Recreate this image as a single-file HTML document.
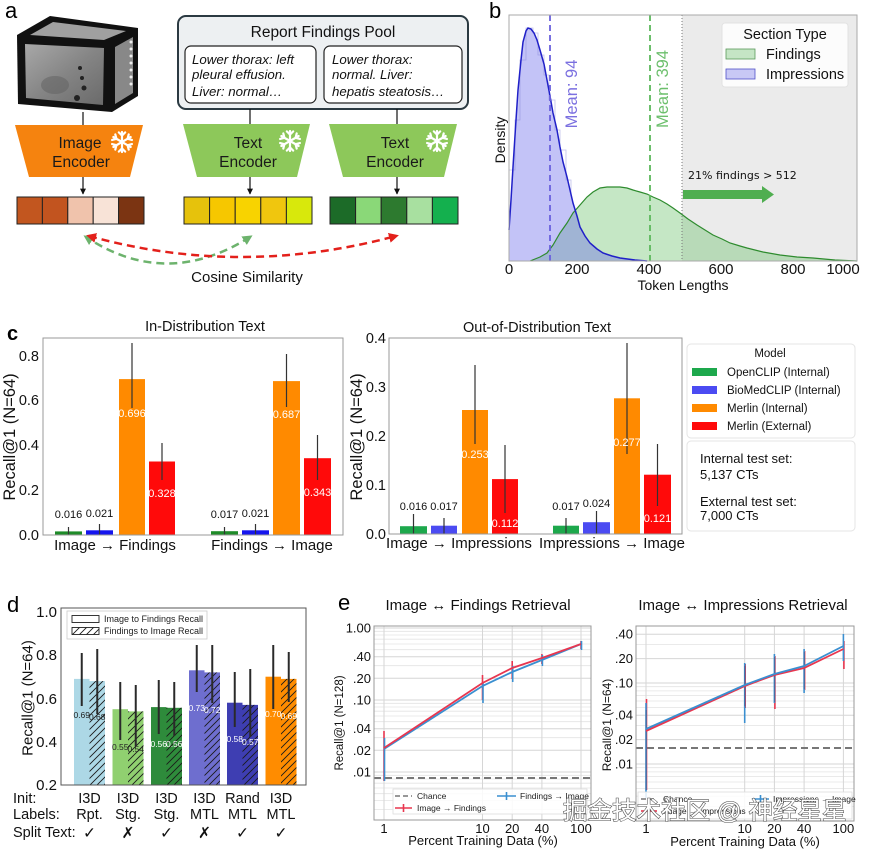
<!DOCTYPE html>
<html><head><meta charset="utf-8"><style>
html,body{margin:0;padding:0;background:#fff;}
svg{display:block;}
text{font-family:"Liberation Sans","DejaVu Sans","Noto Sans CJK SC",sans-serif;}
</style></head><body>
<svg width="870" height="850" viewBox="0 0 870 850" xmlns="http://www.w3.org/2000/svg">
<defs>
<pattern id="h" patternUnits="userSpaceOnUse" width="7" height="7"><path d="M-1,1 L1,-1 M0,7 L7,0 M6,8 L8,6" stroke="#1a1a1a" stroke-width="0.9"/></pattern>
<marker id="ag" viewBox="0 0 10 10" refX="7" refY="5" markerWidth="4" markerHeight="4" orient="auto-start-reverse"><path d="M0,0 L10,5 L0,10 z" fill="#6DB36D"/></marker>
<marker id="ar" viewBox="0 0 10 10" refX="7" refY="5" markerWidth="4" markerHeight="4" orient="auto-start-reverse"><path d="M0,0 L10,5 L0,10 z" fill="#E3201B"/></marker>
<marker id="ak" viewBox="0 0 10 10" refX="9" refY="5" markerWidth="6" markerHeight="6" markerUnits="userSpaceOnUse" orient="auto"><path d="M0,0 L10,5 L0,10 z" fill="#111"/></marker>
<linearGradient id="ct" x1="0" y1="0" x2="1" y2="1"><stop offset="0" stop-color="#a8a8a8"/><stop offset="0.5" stop-color="#858585"/><stop offset="1" stop-color="#6a6a6a"/></linearGradient>
<g id="arm"><path d="M0,0 V-10 M-3.2,-9.6 L0,-6.4 L3.2,-9.6"/></g>
<g id="sf" stroke="#fff" stroke-width="2.2" stroke-linecap="round" fill="none">
<use href="#arm"/><use href="#arm" transform="rotate(60)"/><use href="#arm" transform="rotate(120)"/><use href="#arm" transform="rotate(180)"/><use href="#arm" transform="rotate(240)"/><use href="#arm" transform="rotate(300)"/>
</g>
</defs>
<rect width="870" height="850" fill="#fff"/>

<!-- ================= PANEL A ================= -->
<text x="5" y="18" font-size="22">a</text>
<polygon points="17,35 50,16 138,28 138,96 112,112 18,104" fill="#111"/>
<polygon points="25,44 104,48 103,105 26,98" fill="url(#ct)"/>
<polygon points="30,35 53,22 126,31 104,40" fill="#a0a0a0"/>
<polygon points="115,47 133,37 133,93 115,104" fill="#888"/>
<circle cx="80" cy="68" r="2" fill="#222"/><circle cx="82" cy="78" r="2" fill="#222"/><circle cx="84" cy="88" r="2.5" fill="#222"/><circle cx="77" cy="98" r="3" fill="#222"/>
<ellipse cx="55" cy="85" rx="14" ry="9" fill="#606060" opacity="0.5"/>
<g fill="#eee"><circle cx="131" cy="42" r="1.5"/><circle cx="131" cy="49" r="1.5"/><circle cx="131" cy="56" r="1.5"/><circle cx="131" cy="63" r="1.5"/><circle cx="131" cy="70" r="1.5"/><circle cx="131" cy="77" r="1.5"/><circle cx="131" cy="84" r="1.5"/></g>
<line x1="83" y1="112" x2="83" y2="125" stroke="#111" stroke-width="1.2"/>

<rect x="178" y="16" width="290" height="93" rx="8" fill="#EDF0F2" stroke="#2B3A42" stroke-width="2"/>
<text x="323" y="37" font-size="15.5" text-anchor="middle" fill="#111">Report Findings Pool</text>
<rect x="185" y="46" width="131" height="57" rx="6" fill="#fff" stroke="#222" stroke-width="1.2"/>
<rect x="324" y="46" width="138" height="57" rx="6" fill="#fff" stroke="#222" stroke-width="1.2"/>
<g font-size="13.3" font-style="italic" fill="#111">
<text x="192" y="64">Lower thorax: left</text>
<text x="192" y="79">pleural effusion.</text>
<text x="192" y="96">Liver: normal…</text>
<text x="332" y="64">Lower thorax:</text>
<text x="332" y="79">normal. Liver:</text>
<text x="332" y="96">hepatis steatosis…</text>
</g>
<line x1="250" y1="109" x2="250" y2="124" stroke="#111" stroke-width="1.2"/>
<line x1="397" y1="109" x2="397" y2="124" stroke="#111" stroke-width="1.2"/>

<polygon points="15,125 143,125 130,177 29,177" fill="#F5830F"/>
<polygon points="183,124 310,124 297,177 197,177" fill="#8DC85A"/>
<polygon points="329,124 457,124 444,177 343,177" fill="#8DC85A"/>
<g font-size="15.5" fill="#1a1a1a" text-anchor="middle">
<text x="80" y="148">Image</text><text x="81" y="167">Encoder</text>
<text x="248" y="148">Text</text><text x="248" y="167">Encoder</text>
<text x="395" y="148">Text</text><text x="395" y="167">Encoder</text>
</g>
<use href="#sf" transform="translate(122,142)"/>
<use href="#sf" transform="translate(290,141)"/>
<use href="#sf" transform="translate(437,141)"/>
<line x1="83" y1="177" x2="83" y2="194" stroke="#111" stroke-width="1.2" marker-end="url(#ak)"/>
<line x1="250" y1="177" x2="250" y2="194" stroke="#111" stroke-width="1.2" marker-end="url(#ak)"/>
<line x1="397" y1="177" x2="397" y2="194" stroke="#111" stroke-width="1.2" marker-end="url(#ak)"/>

<g stroke="#222" stroke-width="1">
<rect x="17" y="197" width="25.4" height="27" fill="#C2561F"/>
<rect x="42.4" y="197" width="25.4" height="27" fill="#C2541F"/>
<rect x="67.8" y="197" width="25.4" height="27" fill="#F0C3AC"/>
<rect x="93.2" y="197" width="25.4" height="27" fill="#F8E3D7"/>
<rect x="118.6" y="197" width="25.4" height="27" fill="#7B3412"/>
<rect x="184" y="197" width="25.6" height="27" fill="#E6C20C"/>
<rect x="209.6" y="197" width="25.6" height="27" fill="#F6C700"/>
<rect x="235.2" y="197" width="25.6" height="27" fill="#F8D300"/>
<rect x="260.8" y="197" width="25.6" height="27" fill="#F0C60E"/>
<rect x="286.4" y="197" width="25.6" height="27" fill="#D8E80C"/>
<rect x="330" y="197" width="25.6" height="27" fill="#1C6B28"/>
<rect x="355.6" y="197" width="25.6" height="27" fill="#8AD878"/>
<rect x="381.2" y="197" width="25.6" height="27" fill="#2D7A2F"/>
<rect x="406.8" y="197" width="25.6" height="27" fill="#A8E0A0"/>
<rect x="432.4" y="197" width="25.6" height="27" fill="#14B04E"/>
</g>
<path d="M250,237 Q166,290 86,237" fill="none" stroke="#6DB36D" stroke-width="2.5" stroke-dasharray="8,5" marker-start="url(#ag)" marker-end="url(#ag)"/>
<path d="M89,236 Q240,278 396,236" fill="none" stroke="#E3201B" stroke-width="2.5" stroke-dasharray="8,5" marker-start="url(#ar)" marker-end="url(#ar)"/>
<text x="247" y="282" font-size="15" text-anchor="middle" fill="#111">Cosine Similarity</text>

<!-- ================= PANEL B ================= -->
<text x="489" y="18" font-size="22">b</text>
<rect x="682" y="15" width="175" height="246" fill="#EBEBEB"/>
<path d="M530,261 L540,257 L547,253 L553,245 L560,233 L567,223 L573,213 L580,205 L587,197 L593,192 L600,188 L607,187 L613,187 L620,187 L627,188 L633,190 L640,192 L647,194 L653,197 L660,200 L667,204 L673,208 L680,213 L688,219 L697,225 L705,230 L713,235 L722,239 L730,243 L740,246 L747,248 L763,252 L780,255 L797,257 L813,258 L835,260 L857,261 Z" fill="rgb(90,185,90)" fill-opacity="0.35"/>
<path d="M509,261 L509,230 L511,200 L513,167 L516,120 L518,90 L521,60 L523,42 L526,31 L528,28 L531,29 L534,33 L537,40 L540,50 L544,64 L547,80 L550,96 L553,113 L557,130 L560,147 L563,162 L567,177 L570,190 L573,203 L577,216 L580,227 L585,236 L590,243 L597,249 L603,253 L612,256 L620,258 L635,260 L647,261 Z" fill="rgb(105,105,235)" fill-opacity="0.4"/>
<path d="M509,170 H515 V120 H520 V60 H526 V28 H533 V33 H538 V55 H544 V75 H549 V100 H555 V130 H560 V150 H566 V180 H571 V195" fill="none" stroke="#8080d8" stroke-width="0.8" opacity="0.5"/>
<path d="M530,261 L540,257 L547,253 L553,245 L560,233 L567,223 L573,213 L580,205 L587,197 L593,192 L600,188 L607,187 L613,187 L620,187 L627,188 L633,190 L640,192 L647,194 L653,197 L660,200 L667,204 L673,208 L680,213 L688,219 L697,225 L705,230 L713,235 L722,239 L730,243 L740,246 L747,248 L763,252 L780,255 L797,257 L813,258 L835,260 L857,261" fill="none" stroke="#2E8B2E" stroke-width="1.2"/>
<path d="M509,230 L511,200 L513,167 L516,120 L518,90 L521,60 L523,42 L526,31 L528,28 L531,29 L534,33 L537,40 L540,50 L544,64 L547,80 L550,96 L553,113 L557,130 L560,147 L563,162 L567,177 L570,190 L573,203 L577,216 L580,227 L585,236 L590,243 L597,249 L603,253 L612,256 L620,258 L635,260 L647,261" fill="none" stroke="#2020C8" stroke-width="1.5"/>
<line x1="682" y1="15" x2="682" y2="261" stroke="#777" stroke-width="1" stroke-dasharray="1,2"/>
<line x1="550" y1="15" x2="550" y2="261" stroke="#6A60DD" stroke-width="1.8" stroke-dasharray="6,4"/>
<line x1="650" y1="15" x2="650" y2="261" stroke="#5CB85C" stroke-width="1.8" stroke-dasharray="6,4"/>
<text transform="translate(572,94) rotate(-90)" font-size="16.5" text-anchor="middle" dominant-baseline="central" fill="#7B70E0">Mean: 94</text>
<text transform="translate(663,89) rotate(-90)" font-size="16.5" text-anchor="middle" dominant-baseline="central" fill="#6CBF6C">Mean: 394</text>
<rect x="683" y="190" width="80" height="9" fill="#4FAE50"/>
<polygon points="762,186 774,194.5 762,203" fill="#4FAE50"/>
<text x="688" y="179" font-size="11" fill="#111" style="font-family:'DejaVu Sans',sans-serif">21% findings &gt; 512</text>
<rect x="509" y="15" width="348" height="246" fill="none" stroke="#aaa" stroke-width="1"/>
<rect x="722" y="23" width="126" height="64" rx="3" fill="#fff" fill-opacity="0.85" stroke="#e2e2e2"/>
<text x="785" y="39" font-size="14.5" text-anchor="middle" fill="#111">Section Type</text>
<rect x="726" y="49" width="29" height="10" fill="#C5E5C5" stroke="#5a9a5a" stroke-width="0.8"/>
<rect x="726" y="69" width="29" height="10" fill="#C8C8F5" stroke="#5050C8" stroke-width="0.8"/>
<text x="766" y="59" font-size="14.5" fill="#111">Findings</text>
<text x="766" y="79" font-size="14.5" fill="#111">Impressions</text>
<g font-size="15" text-anchor="middle" fill="#111">
<text x="509" y="274">0</text><text x="577" y="274">200</text><text x="649" y="274">400</text><text x="721" y="274">600</text><text x="793" y="274">800</text><text x="843" y="274">1000</text>
</g>
<text x="683" y="290" font-size="14" text-anchor="middle" fill="#111">Token Lengths</text>
<text transform="translate(500,140) rotate(-90)" font-size="14" text-anchor="middle" dominant-baseline="central" fill="#111">Density</text>

<!-- ================= PANEL C ================= -->
<text x="7" y="340" font-size="20" font-weight="bold">c</text>
<text x="205" y="331" font-size="14.5" text-anchor="middle" fill="#111">In-Distribution Text</text>
<text x="537" y="332" font-size="14.5" text-anchor="middle" fill="#111">Out-of-Distribution Text</text>
<rect x="55" y="531.4" width="27" height="3.6" fill="#1E8B28"/>
<rect x="86" y="530.3" width="27" height="4.7" fill="#1515EE"/>
<rect x="119" y="379.1" width="26" height="155.9" fill="#FF8A00"/>
<rect x="149" y="461.5" width="26" height="73.5" fill="#FF0A0A"/>
<rect x="211" y="531.2" width="27" height="3.8" fill="#1E8B28"/>
<rect x="242" y="530.3" width="27" height="4.7" fill="#1515EE"/>
<rect x="273" y="381.1" width="27" height="153.9" fill="#FF8A00"/>
<rect x="304" y="458.2" width="27" height="76.8" fill="#FF0A0A"/>
<g stroke="#333" stroke-width="1.2">
<line x1="68.5" y1="527" x2="68.5" y2="535"/><line x1="99.5" y1="524" x2="99.5" y2="535"/>
<line x1="132" y1="343" x2="132" y2="408"/><line x1="162" y1="443" x2="162" y2="480"/>
<line x1="224.5" y1="527" x2="224.5" y2="535"/><line x1="255.5" y1="524" x2="255.5" y2="535"/>
<line x1="286.5" y1="354" x2="286.5" y2="407"/><line x1="317.5" y1="435" x2="317.5" y2="480"/>
</g>
<g font-size="11" text-anchor="middle">
<text x="68.5" y="518" fill="#111">0.016</text><text x="99.5" y="517" fill="#111">0.021</text>
<text x="132" y="417" fill="#fff">0.696</text><text x="162" y="497" fill="#fff">0.328</text>
<text x="224.5" y="518" fill="#111">0.017</text><text x="255.5" y="517" fill="#111">0.021</text>
<text x="286.5" y="418" fill="#fff">0.687</text><text x="317.5" y="496" fill="#fff">0.343</text>
</g>
<rect x="43" y="338" width="300" height="197" fill="none" stroke="#999" stroke-width="1"/>
<g font-size="14.5" text-anchor="end" fill="#111">
<text x="39" y="540">0.0</text><text x="39" y="495">0.2</text><text x="39" y="450">0.4</text><text x="39" y="405">0.6</text><text x="39" y="361">0.8</text>
</g>
<text transform="translate(10,437) rotate(-90)" font-size="16.5" text-anchor="middle" dominant-baseline="central" fill="#111">Recall@1 (N=64)</text>
<text x="115" y="550" font-size="15" text-anchor="middle" fill="#111">Image → Findings</text>
<text x="272" y="550" font-size="15" text-anchor="middle" fill="#111">Findings → Image</text>
<rect x="400" y="526.2" width="27" height="7.8" fill="#1DA84C"/>
<rect x="431" y="525.7" width="26" height="8.3" fill="#4B4BF2"/>
<rect x="462" y="410" width="26" height="124" fill="#FF8A00"/>
<rect x="492" y="479.1" width="26" height="54.9" fill="#FF0A0A"/>
<rect x="553" y="525.7" width="26" height="8.3" fill="#1DA84C"/>
<rect x="583" y="522.2" width="27" height="11.8" fill="#4B4BF2"/>
<rect x="614" y="398.3" width="26" height="135.7" fill="#FF8A00"/>
<rect x="644" y="474.7" width="27" height="59.3" fill="#FF0A0A"/>
<g stroke="#333" stroke-width="1.2">
<line x1="413.5" y1="514" x2="413.5" y2="534"/><line x1="444" y1="518" x2="444" y2="534"/>
<line x1="475" y1="365" x2="475" y2="444"/><line x1="505" y1="445" x2="505" y2="513"/>
<line x1="566" y1="518" x2="566" y2="534"/><line x1="596.5" y1="511" x2="596.5" y2="534"/>
<line x1="627" y1="343" x2="627" y2="454"/><line x1="657.5" y1="444" x2="657.5" y2="506"/>
</g>
<g font-size="11" text-anchor="middle">
<text x="413.5" y="510" fill="#111">0.016</text><text x="444" y="510" fill="#111">0.017</text>
<text x="475" y="458" fill="#fff">0.253</text><text x="505" y="527" fill="#fff">0.112</text>
<text x="566" y="510" fill="#111">0.017</text><text x="596.5" y="507" fill="#111">0.024</text>
<text x="627" y="446" fill="#fff">0.277</text><text x="657.5" y="522" fill="#fff">0.121</text>
</g>
<rect x="389" y="338" width="293" height="196" fill="none" stroke="#999" stroke-width="1"/>
<g font-size="14.5" text-anchor="end" fill="#111">
<text x="386" y="539">0.0</text><text x="386" y="490">0.1</text><text x="386" y="441">0.2</text><text x="386" y="392">0.3</text><text x="386" y="343">0.4</text>
</g>
<text transform="translate(357,437) rotate(-90)" font-size="16.5" text-anchor="middle" dominant-baseline="central" fill="#111">Recall@1 (N=64)</text>
<text x="459" y="548" font-size="15" text-anchor="middle" fill="#111">Image → Impressions</text>
<text x="612" y="548" font-size="15" text-anchor="middle" fill="#111">Impressions → Image</text>
<rect x="687" y="344" width="168" height="94" rx="4" fill="#fff" stroke="#e4e4e4"/>
<text x="770" y="357" font-size="11.5" text-anchor="middle" fill="#111">Model</text>
<rect x="692" y="368" width="25" height="8" fill="#1DA84C"/>
<rect x="692" y="386" width="25" height="8" fill="#4B4BF2"/>
<rect x="692" y="404" width="25" height="8" fill="#FF8A00"/>
<rect x="692" y="422" width="25" height="8" fill="#FF0A0A"/>
<g font-size="11.5" fill="#111">
<text x="727" y="376">OpenCLIP (Internal)</text>
<text x="727" y="394">BioMedCLIP (Internal)</text>
<text x="727" y="412">Merlin (Internal)</text>
<text x="727" y="430">Merlin (External)</text>
</g>
<rect x="687" y="441" width="168" height="90" rx="4" fill="#fff" stroke="#e4e4e4"/>
<g font-size="13" fill="#111">
<text x="700" y="463">Internal test set:</text>
<text x="700" y="479">5,137 CTs</text>
<text x="700" y="506">External test set:</text>
<text x="700" y="520">7,000 CTs</text>
</g>

<!-- ================= PANEL D ================= -->
<text x="7" y="612" font-size="22">d</text>
<rect x="74" y="678.9" width="15.5" height="106.1" fill="#ADD8E6"/>
<rect x="89.5" y="681.1" width="15.5" height="103.9" fill="#ADD8E6"/><rect x="89.5" y="681.1" width="15.5" height="103.9" fill="url(#h)"/>
<rect x="112.5" y="709.2" width="15.5" height="75.8" fill="#90D070"/>
<rect x="128" y="711.4" width="15.5" height="73.6" fill="#90D070"/><rect x="128" y="711.4" width="15.5" height="73.6" fill="url(#h)"/>
<rect x="151" y="707.1" width="15.5" height="77.9" fill="#2E8B3B"/>
<rect x="166.5" y="707.8" width="15.5" height="77.2" fill="#2E8B3B"/><rect x="166.5" y="707.8" width="15.5" height="77.2" fill="url(#h)"/>
<rect x="189" y="670.3" width="15.5" height="114.7" fill="#6E6ECF"/>
<rect x="204.5" y="672.4" width="15.5" height="112.6" fill="#6E6ECF"/><rect x="204.5" y="672.4" width="15.5" height="112.6" fill="url(#h)"/>
<rect x="227" y="702.7" width="15.5" height="82.3" fill="#3E3EB2"/>
<rect x="242.5" y="704.9" width="15.5" height="80.1" fill="#3E3EB2"/><rect x="242.5" y="704.9" width="15.5" height="80.1" fill="url(#h)"/>
<rect x="265.5" y="676.7" width="15.5" height="108.3" fill="#FF8C00"/>
<rect x="281" y="678.9" width="15.5" height="106.1" fill="#FF8C00"/><rect x="281" y="678.9" width="15.5" height="106.1" fill="url(#h)"/>
<g stroke="#2a2a2a" stroke-width="2">
<line x1="81.75" y1="653" x2="81.75" y2="706"/><line x1="97.25" y1="649" x2="97.25" y2="714"/>
<line x1="120.25" y1="682" x2="120.25" y2="740"/><line x1="135.75" y1="685" x2="135.75" y2="746"/>
<line x1="158.75" y1="680" x2="158.75" y2="734"/><line x1="174.25" y1="682" x2="174.25" y2="736"/>
<line x1="196.75" y1="645" x2="196.75" y2="692"/><line x1="212.25" y1="645" x2="212.25" y2="703"/>
<line x1="234.75" y1="672" x2="234.75" y2="727"/><line x1="250.25" y1="669" x2="250.25" y2="737"/>
<line x1="273.25" y1="645" x2="273.25" y2="709"/><line x1="288.75" y1="652" x2="288.75" y2="702"/>
</g>
<g font-size="8.5" text-anchor="middle">
<text x="81.75" y="718" fill="#222">0.69</text><text x="97.25" y="720" fill="#222">0.68</text>
<text x="120.25" y="750" fill="#222">0.55</text><text x="135.75" y="752" fill="#222">0.54</text>
<text x="158.75" y="747" fill="#fff">0.56</text><text x="174.25" y="747" fill="#fff">0.56</text>
<text x="196.75" y="711" fill="#fff">0.73</text><text x="212.25" y="713" fill="#fff">0.72</text>
<text x="234.75" y="742" fill="#fff">0.58</text><text x="250.25" y="745" fill="#fff">0.57</text>
<text x="273.25" y="717" fill="#fff">0.70</text><text x="288.75" y="719" fill="#fff">0.69</text>
</g>
<rect x="61" y="608" width="245" height="177" fill="none" stroke="#555" stroke-width="1"/>
<rect x="67" y="611" width="140" height="28" fill="#fff" fill-opacity="0.9" stroke="#ccc" stroke-width="0.8"/>
<rect x="72" y="615.5" width="27" height="7" fill="#fff" stroke="#222" stroke-width="0.9"/>
<rect x="72" y="627.5" width="27" height="7" fill="#fff" stroke="#222" stroke-width="0.9"/>
<rect x="72" y="627.5" width="27" height="7" fill="url(#h)"/>
<text x="104" y="622" font-size="9" fill="#222">Image to Findings Recall</text>
<text x="104" y="634" font-size="9" fill="#222">Findings to Image Recall</text>
<g font-size="15" text-anchor="end" fill="#111">
<text x="57" y="617">1.0</text><text x="57" y="660">0.8</text><text x="57" y="704">0.6</text><text x="57" y="747">0.4</text><text x="57" y="790">0.2</text>
</g>
<text transform="translate(28,698) rotate(-90)" font-size="15" text-anchor="middle" dominant-baseline="central" fill="#111">Recall@1 (N=64)</text>
<g font-size="14.5" fill="#111">
<text x="13" y="803">Init:</text><text x="13" y="819">Labels:</text><text x="13" y="837">Split Text:</text>
</g>
<g font-size="14.5" fill="#111" text-anchor="middle">
<text x="89.5" y="803">I3D</text><text x="128" y="803">I3D</text><text x="166.5" y="803">I3D</text><text x="204.5" y="803">I3D</text><text x="242.5" y="803">Rand</text><text x="281" y="803">I3D</text>
<text x="89.5" y="819">Rpt.</text><text x="128" y="819">Stg.</text><text x="166.5" y="819">Stg.</text><text x="204.5" y="819">MTL</text><text x="242.5" y="819">MTL</text><text x="281" y="819">MTL</text>
</g>
<g font-size="15.5" fill="#111" text-anchor="middle" style="font-family:'DejaVu Sans',sans-serif">
<text x="89.5" y="838">✓</text><text x="128" y="838">✗</text><text x="166.5" y="838">✓</text><text x="204.5" y="838">✗</text><text x="242.5" y="838">✓</text><text x="281" y="838">✓</text>
</g>

<!-- ================= PANEL E ================= -->
<text x="338" y="610" font-size="22">e</text>
<text x="478" y="610" font-size="15" text-anchor="middle" fill="#111">Image ↔ Findings Retrieval</text>
<text x="743" y="610" font-size="15" text-anchor="middle" fill="#111">Image ↔ Impressions Retrieval</text>
<g stroke="#e4e4e4" stroke-width="0.8">
<line x1="374" x2="591" y1="809.6" y2="809.6"/><line x1="374" x2="591" y1="800.6" y2="800.6"/><line x1="374" x2="591" y1="793.7" y2="793.7"/><line x1="374" x2="591" y1="788" y2="788"/><line x1="374" x2="591" y1="783.2" y2="783.2"/><line x1="374" x2="591" y1="779" y2="779"/><line x1="374" x2="591" y1="775.3" y2="775.3"/>
<line x1="374" x2="591" y1="737.7" y2="737.7"/><line x1="374" x2="591" y1="721.7" y2="721.7"/><line x1="374" x2="591" y1="716" y2="716"/><line x1="374" x2="591" y1="711.2" y2="711.2"/><line x1="374" x2="591" y1="707" y2="707"/><line x1="374" x2="591" y1="703.3" y2="703.3"/>
<line x1="374" x2="591" y1="665.7" y2="665.7"/><line x1="374" x2="591" y1="649.7" y2="649.7"/><line x1="374" x2="591" y1="644" y2="644"/><line x1="374" x2="591" y1="639.2" y2="639.2"/><line x1="374" x2="591" y1="635" y2="635"/><line x1="374" x2="591" y1="631.3" y2="631.3"/>
</g>
<g stroke="#d6d6d6" stroke-width="1">
<line x1="374" x2="591" y1="772" y2="772"/><line x1="374" x2="591" y1="750.3" y2="750.3"/><line x1="374" x2="591" y1="728.7" y2="728.7"/><line x1="374" x2="591" y1="700" y2="700"/><line x1="374" x2="591" y1="678.3" y2="678.3"/><line x1="374" x2="591" y1="656.7" y2="656.7"/><line x1="374" x2="591" y1="628" y2="628"/>
<line x1="384" x2="384" y1="626" y2="820"/><line x1="482.5" x2="482.5" y1="626" y2="820"/><line x1="512.2" x2="512.2" y1="626" y2="820"/><line x1="541.9" x2="541.9" y1="626" y2="820"/><line x1="581" x2="581" y1="626" y2="820"/>
</g>
<line x1="374" y1="778" x2="591" y2="778" stroke="#777" stroke-width="2" stroke-dasharray="7,4"/>
<g stroke="#E8364F" stroke-width="1.6">
<line x1="384" y1="731" x2="384" y2="781"/><line x1="482.5" y1="675" x2="482.5" y2="700"/><line x1="512.2" y1="661" x2="512.2" y2="679"/><line x1="541.9" y1="654" x2="541.9" y2="664"/><line x1="581" y1="641" x2="581" y2="649"/>
</g>
<g stroke="#3A8FD0" stroke-width="1.6">
<line x1="384.5" y1="738" x2="384.5" y2="781"/><line x1="483" y1="683" x2="483" y2="703"/><line x1="512.7" y1="666" x2="512.7" y2="682"/><line x1="542.4" y1="655" x2="542.4" y2="666"/><line x1="581.5" y1="641" x2="581.5" y2="650"/>
</g>
<polyline points="384,749 482.5,686 512.2,672 541.9,660 581,644" fill="none" stroke="#3A8FD0" stroke-width="1.8"/>
<polyline points="384,748 482.5,683 512.2,668 541.9,658 581,644" fill="none" stroke="#E8364F" stroke-width="1.8"/>
<rect x="374" y="626" width="217" height="194" fill="none" stroke="#999" stroke-width="1"/>
<rect x="393" y="789" width="194" height="25" fill="#fff" fill-opacity="0.85" stroke="#ddd" stroke-width="0.8"/>
<line x1="395" y1="796" x2="412" y2="796" stroke="#777" stroke-width="1.6" stroke-dasharray="5,3"/>
<text x="417" y="799" font-size="8.5" fill="#222">Chance</text>
<line x1="395" y1="808" x2="412" y2="808" stroke="#E8364F" stroke-width="1.6"/><line x1="403.5" y1="804" x2="403.5" y2="812" stroke="#E8364F" stroke-width="1.6"/>
<text x="417" y="811" font-size="8.5" fill="#222">Image → Findings</text>
<line x1="497" y1="796" x2="516" y2="796" stroke="#3A8FD0" stroke-width="1.6"/><line x1="506.5" y1="792" x2="506.5" y2="800" stroke="#3A8FD0" stroke-width="1.6"/>
<text x="520" y="799" font-size="8.5" fill="#222">Findings → Image</text>
<g font-size="13" text-anchor="end" fill="#111">
<text x="371" y="632.5">1.00</text><text x="371" y="661.2">.40</text><text x="371" y="682.8">.20</text><text x="371" y="704.5">.10</text><text x="371" y="733.2">.04</text><text x="371" y="754.8">.02</text><text x="371" y="776.5">.01</text>
</g>
<g font-size="13" text-anchor="middle" fill="#111">
<text x="384" y="833">1</text><text x="482.5" y="833">10</text><text x="512.2" y="833">20</text><text x="541.9" y="833">40</text><text x="581" y="833">100</text>
</g>
<text x="483" y="845" font-size="13" text-anchor="middle" fill="#111">Percent Training Data (%)</text>
<text transform="translate(340,723) rotate(-90)" font-size="11.5" text-anchor="middle" dominant-baseline="central" fill="#111">Recall@1 (N=128)</text>

<g stroke="#e4e4e4" stroke-width="0.8">
<line x1="636" x2="854" y1="806.4" y2="806.4"/><line x1="636" x2="854" y1="796.2" y2="796.2"/><line x1="636" x2="854" y1="788.4" y2="788.4"/><line x1="636" x2="854" y1="782" y2="782"/><line x1="636" x2="854" y1="776.6" y2="776.6"/><line x1="636" x2="854" y1="771.9" y2="771.9"/><line x1="636" x2="854" y1="767.7" y2="767.7"/>
<line x1="636" x2="854" y1="725.4" y2="725.4"/><line x1="636" x2="854" y1="707.4" y2="707.4"/><line x1="636" x2="854" y1="701" y2="701"/><line x1="636" x2="854" y1="695.6" y2="695.6"/><line x1="636" x2="854" y1="690.9" y2="690.9"/><line x1="636" x2="854" y1="686.7" y2="686.7"/>
<line x1="636" x2="854" y1="644.4" y2="644.4"/>
</g>
<g stroke="#d6d6d6" stroke-width="1">
<line x1="636" x2="854" y1="764" y2="764"/><line x1="636" x2="854" y1="739.6" y2="739.6"/><line x1="636" x2="854" y1="715.2" y2="715.2"/><line x1="636" x2="854" y1="683" y2="683"/><line x1="636" x2="854" y1="658.6" y2="658.6"/><line x1="636" x2="854" y1="634.2" y2="634.2"/>
<line x1="646" x2="646" y1="626" y2="821"/><line x1="744.7" x2="744.7" y1="626" y2="821"/><line x1="774.4" x2="774.4" y1="626" y2="821"/><line x1="804.1" x2="804.1" y1="626" y2="821"/><line x1="843.4" x2="843.4" y1="626" y2="821"/>
</g>
<line x1="636" y1="748" x2="854" y2="748" stroke="#777" stroke-width="2" stroke-dasharray="7,4"/>
<g stroke="#E8364F" stroke-width="1.6">
<line x1="646.5" y1="699" x2="646.5" y2="790"/><line x1="745.2" y1="664" x2="745.2" y2="708"/><line x1="774.9" y1="656" x2="774.9" y2="709"/><line x1="804.6" y1="651" x2="804.6" y2="690"/><line x1="843.9" y1="641" x2="843.9" y2="669"/>
</g>
<g stroke="#3A8FD0" stroke-width="1.6">
<line x1="646" y1="703" x2="646" y2="798"/><line x1="744.7" y1="663" x2="744.7" y2="723"/><line x1="774.4" y1="654" x2="774.4" y2="703"/><line x1="804.1" y1="649" x2="804.1" y2="693"/><line x1="843.4" y1="634" x2="843.4" y2="661"/>
</g>
<g stroke="#4a5a8a" stroke-width="1.2" opacity="0.6">
<line x1="646.2" y1="710" x2="646.2" y2="790"/><line x1="744.9" y1="666" x2="744.9" y2="706"/><line x1="774.6" y1="657" x2="774.6" y2="702"/><line x1="804.3" y1="652" x2="804.3" y2="689"/>
</g>
<polyline points="646,731 744.7,686 774.4,675 804.1,668 843.4,649" fill="none" stroke="#E8364F" stroke-width="1.8"/>
<polyline points="646,729 744.7,685 774.4,674 804.1,666 843.4,646" fill="none" stroke="#3A8FD0" stroke-width="1.8"/>
<rect x="636" y="626" width="218" height="195" fill="none" stroke="#999" stroke-width="1"/>
<rect x="638" y="792" width="214" height="27" fill="#fff" fill-opacity="0.85" stroke="#ddd" stroke-width="0.8"/>
<line x1="641" y1="799" x2="657" y2="799" stroke="#777" stroke-width="1.6" stroke-dasharray="5,3"/>
<text x="663" y="802" font-size="8.5" fill="#222">Chance</text>
<line x1="641" y1="811" x2="657" y2="811" stroke="#E8364F" stroke-width="1.6"/>
<text x="663" y="814" font-size="8.5" fill="#222">Image → Impressions</text>
<line x1="752" y1="799" x2="769" y2="799" stroke="#3A8FD0" stroke-width="1.6"/><line x1="760.5" y1="795" x2="760.5" y2="803" stroke="#3A8FD0" stroke-width="1.6"/>
<text x="773" y="802" font-size="8.5" fill="#222">Impressions → Image</text>
<g font-size="13" text-anchor="end" fill="#111">
<text x="633" y="638.7">.40</text><text x="633" y="663.1">.20</text><text x="633" y="687.5">.10</text><text x="633" y="719.7">.04</text><text x="633" y="744.1">.02</text><text x="633" y="768.5">.01</text>
</g>
<g font-size="13" text-anchor="middle" fill="#111">
<text x="646" y="833">1</text><text x="744.7" y="833">10</text><text x="774.4" y="833">20</text><text x="804.1" y="833">40</text><text x="843.4" y="833">100</text>
</g>
<text x="745" y="846" font-size="13" text-anchor="middle" fill="#111">Percent Training Data (%)</text>
<text transform="translate(607,725) rotate(-90)" font-size="12" text-anchor="middle" dominant-baseline="central" fill="#111">Recall@1 (N=64)</text>

<text x="563" y="819" font-size="24.5" fill="#fff" stroke="#4a4a4a" stroke-width="1.1" paint-order="stroke" style="font-family:'Liberation Sans','Noto Sans CJK SC',sans-serif">掘金技术社区 @ 神经星星</text>
</svg>
</body></html>
